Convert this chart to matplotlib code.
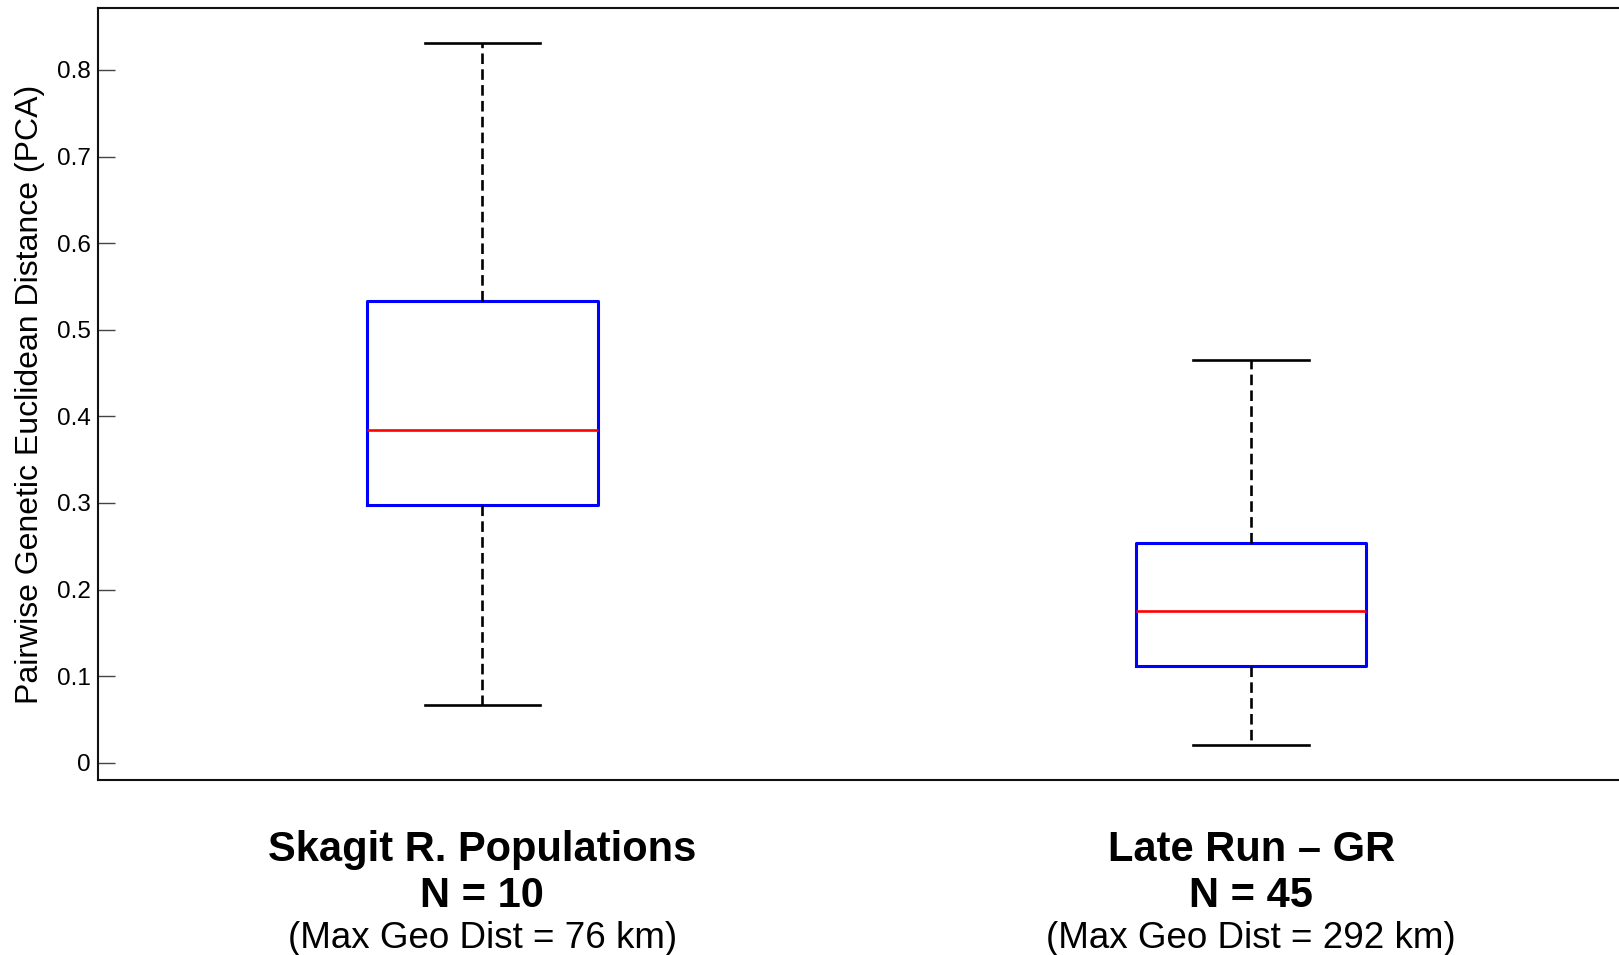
import matplotlib

matplotlib.use("Agg")
import matplotlib.pyplot as plt  # noqa: E402
import matplotlib.transforms as mtransforms  # noqa: E402

plt.rcParams["font.family"] = ["Liberation Sans", "DejaVu Sans"]

# --- données ---
groups = ["Skagit R. Populations", "Late Run \u2013 GR"]
n_pairs = ["N = 10", "N = 45"]
geo_note = ["(Max Geo Dist = 76 km)", "(Max Geo Dist = 292 km)"]
whisker_low = [0.067, 0.021]
q1 = [0.298, 0.112]
median = [0.384, 0.175]
q3 = [0.533, 0.254]
whisker_high = [0.831, 0.465]
yticks = [0, 0.1, 0.2, 0.3, 0.4, 0.5, 0.6, 0.7, 0.8]
ytick_labels = ["0", "0.1", "0.2", "0.3", "0.4", "0.5", "0.6", "0.7", "0.8"]

BLUE = "#0000ff"
RED = "#ff0000"
INK = "#000000"

fig = plt.figure(figsize=(16.19, 9.55), dpi=100)
fig.patch.set_facecolor("white")
# axe volontairement plus large que la figure (bord droit coupé comme l'original)
ax = fig.add_axes([0.0605, 0.1832, 0.9497, 0.8079])

stats = []
for i in range(len(groups)):
    stats.append({"whislo": whisker_low[i], "q1": q1[i], "med": median[i],
                  "q3": q3[i], "whishi": whisker_high[i], "fliers": []})

ax.bxp(stats, positions=[1, 2], widths=0.3, showfliers=False,
       boxprops=dict(color=BLUE, lw=2.2),
       medianprops=dict(color=RED, lw=1.9),
       whiskerprops=dict(color=INK, lw=1.9, ls=(0, (4, 2))),
       capprops=dict(color=INK, lw=1.9),
       capwidths=0.15)

ax.set_xlim(0.5, 2.5)
ax.set_ylim(-0.02, 0.871)
ax.set_yticks(yticks)
ax.set_yticklabels(ytick_labels)
ax.set_xticks([])
ax.tick_params(axis="y", direction="in", length=12, width=1, color="#444444",
               labelsize=17.5, pad=5, labelcolor=INK)
for s in ax.spines.values():
    s.set_linewidth(1.5)
    s.set_color("#111111")

ax.set_ylabel("Pairwise Genetic Euclidean Distance (PCA)", fontsize=23, color=INK)
ax.yaxis.set_label_coords(-0.0345, 0.5)

# libellés des groupes sous l'axe
trans = mtransforms.blended_transform_factory(ax.transData, fig.transFigure)
for i, pos in enumerate([1, 2]):
    ax.text(pos, 0.110, groups[i], transform=trans, ha="center", va="center",
            fontsize=30, fontweight="bold", color=INK)
    ax.text(pos, 0.062, n_pairs[i], transform=trans, ha="center", va="center",
            fontsize=30, fontweight="bold", color=INK)
    ax.text(pos, 0.017, geo_note[i], transform=trans, ha="center", va="center",
            fontsize=26.5, color=INK)

fig.savefig("out.png", dpi=100, facecolor="white")
